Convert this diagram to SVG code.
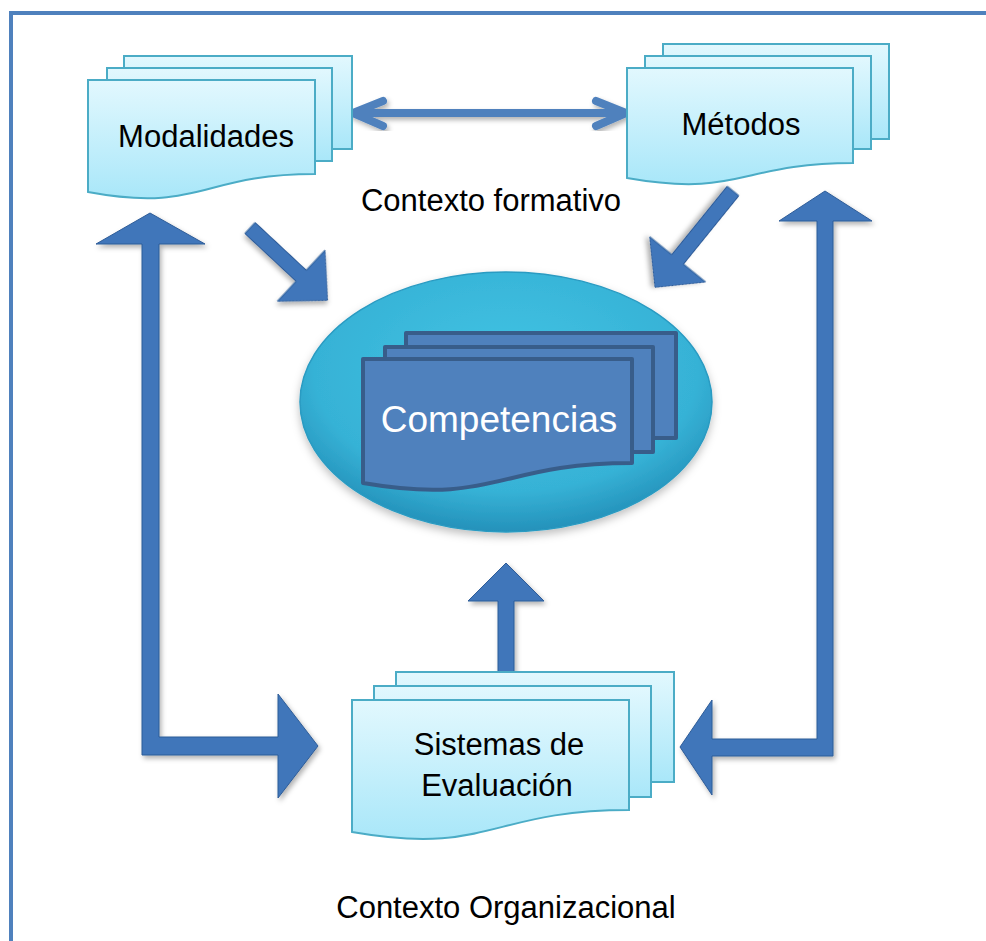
<svg xmlns="http://www.w3.org/2000/svg" width="986" height="941" viewBox="0 0 986 941">
  <defs>
    <linearGradient id="pageFill" x1="0" y1="0" x2="0" y2="1">
      <stop offset="0" stop-color="#E2F8FE"/>
      <stop offset="1" stop-color="#A9E7F9"/>
    </linearGradient>
    <radialGradient id="ovalFill" cx="0.5" cy="0.38" r="0.62">
      <stop offset="0" stop-color="#42C4E4"/>
      <stop offset="0.75" stop-color="#36B2D6"/>
      <stop offset="1" stop-color="#2491BA"/>
    </radialGradient>
    <filter id="shadow" x="-20%" y="-20%" width="140%" height="140%">
      <feDropShadow dx="2" dy="3" stdDeviation="2.5" flood-color="#000" flood-opacity="0.3"/>
    </filter>
    <filter id="softShadow" x="-10%" y="-10%" width="120%" height="130%">
      <feDropShadow dx="0" dy="4" stdDeviation="4" flood-color="#000" flood-opacity="0.25"/>
    </filter>
  </defs>
  <style>
    .frame { fill: none; stroke: #4F81BD; stroke-width: 4; }
    .page { fill: url(#pageFill); stroke: #4BACC6; stroke-width: 2; }
    .dpage { fill: #4F81BD; stroke: #385D8A; stroke-width: 4; stroke-linejoin: round; }
    .block { fill: #3F76BA; stroke: #2E5C98; stroke-width: 1; stroke-linejoin: round; filter: url(#shadow); }
    .line2 { fill: none; stroke: #4F81BD; stroke-width: 8; stroke-linecap: round; stroke-linejoin: round; filter: url(#shadow); }
    .lbl { font-family: "Liberation Sans", Arial, sans-serif; font-size: 31px; fill: #000; text-anchor: middle; }
    .lblw { font-family: "Liberation Sans", Arial, sans-serif; font-size: 37px; fill: #FFF; text-anchor: middle; }
  </style>

  <rect width="986" height="941" fill="#FFFFFF"/>

  <!-- outer frame: top and left rules -->
  <path class="frame" d="M11,941 V13 H986"/>

  <!-- connectors -->
  <g id="connectors">
    <!-- Modalidades <-> Métodos -->
    <path class="line2" d="M353,113 H626 M383,101 L353,113 L383,126 M596,101 L626,113 L596,126"/>
    <!-- Modalidades -> Competencias -->
    <path class="block" transform="translate(250,228) rotate(43)" d="M0,-7.5 H70 V-35 L106,0 L70,35 V7.5 H0 Z"/>
    <!-- Métodos -> Competencias -->
    <path class="block" transform="translate(733,191) rotate(129)" d="M0,-7.5 H88 V-36 L124,0 L88,36 V7.5 H0 Z"/>
    <!-- Sistemas <-> Modalidades (L shape, left) -->
    <path class="block" d="M150,213 L205,244 L159,244 L159,737 L278,737 L278,694 L318,746 L278,798 L278,755 L142,755 L142,244 L96,244 Z"/>
    <!-- Sistemas <-> Métodos (L shape, right) -->
    <path class="block" d="M825,191 L872,221 L833,221 L833,756 L712,756 L712,795 L680,747 L712,700 L712,739 L817,739 L817,221 L779,221 Z"/>
    <!-- Sistemas -> Competencias -->
    <path class="block" d="M506,563 L544,601 L514,601 L514,690 L498,690 L498,601 L468,601 Z"/>
  </g>

  <!-- Modalidades -->
  <g id="modalidades">
    <rect class="page" x="124" y="56" width="228" height="93"/>
    <rect class="page" x="107" y="68" width="225" height="93"/>
    <path class="page" d="M88,80 H315 V174 C201,174 201,213 88,192 Z"/>
    <text class="lbl" x="206" y="147">Modalidades</text>
  </g>

  <!-- Métodos -->
  <g id="metodos">
    <rect class="page" x="663" y="44" width="226" height="95"/>
    <rect class="page" x="645" y="56" width="226" height="93"/>
    <path class="page" d="M627,68 H853 V163 C740,163 740,198 627,178 Z"/>
    <text class="lbl" x="741" y="135">Métodos</text>
  </g>

  <!-- Contexto formativo label -->
  <g id="contexto-formativo">
    <text class="lbl" x="491" y="211">Contexto formativo</text>
  </g>

  <!-- Competencias -->
  <g id="competencias">
    <ellipse cx="506" cy="402" rx="206" ry="130" fill="url(#ovalFill)" stroke="#2A9BC2" stroke-width="1.5" filter="url(#softShadow)"/>
    <rect class="dpage" x="406" y="333" width="270" height="105"/>
    <rect class="dpage" x="385" y="347" width="268" height="105"/>
    <path class="dpage" d="M363,359 H632 V463 C497,463 497,506 363,483 Z"/>
    <text class="lblw" x="499" y="432">Competencias</text>
  </g>

  <!-- Sistemas de Evaluación -->
  <g id="sistemas">
    <rect class="page" x="396" y="672" width="278" height="110"/>
    <rect class="page" x="374" y="686" width="277" height="111"/>
    <path class="page" d="M352,700 H629 V810 C490,810 490,856 352,832 Z"/>
    <text class="lbl" x="499" y="755">Sistemas de</text>
    <text class="lbl" x="497" y="796">Evaluación</text>
  </g>

  <!-- Contexto Organizacional label -->
  <g id="contexto-organizacional">
    <text class="lbl" x="506" y="918">Contexto Organizacional</text>
  </g>
</svg>
